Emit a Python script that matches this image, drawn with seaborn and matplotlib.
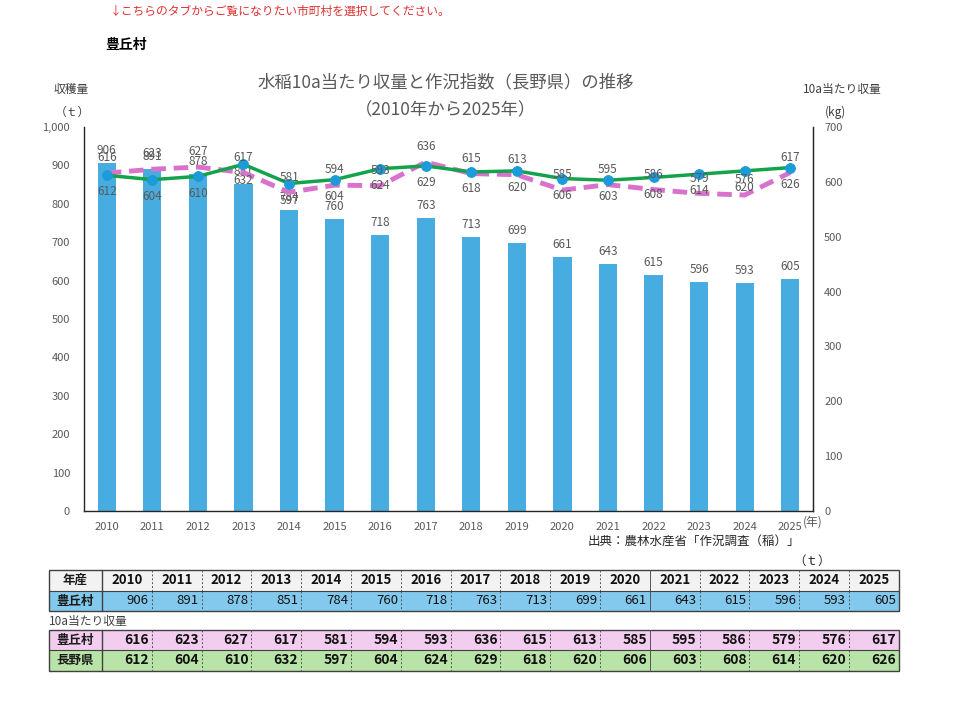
import numpy as np
import pandas as pd
import matplotlib
matplotlib.use("Agg")
import matplotlib.pyplot as plt
from matplotlib.patches import Rectangle
from matplotlib.ticker import FuncFormatter, MultipleLocator
import seaborn as sns

# ---- data ----
years = ["2010", "2011", "2012", "2013", "2014", "2015", "2016", "2017",
         "2018", "2019", "2020", "2021", "2022", "2023", "2024", "2025"]
harvest_t = [906, 891, 878, 851, 784, 760, 718, 763, 713, 699, 661, 643, 615, 596, 593, 605]
yield_village = [616, 623, 627, 617, 581, 594, 593, 636, 615, 613, 585, 595, 586, 579, 576, 617]
yield_pref = [612, 604, 610, 632, 597, 604, 624, 629, 618, 620, 606, 603, 608, 614, 620, 626]

village = "豊丘村"
pref = "長野県"

sns.set_style("white")
plt.rcParams["font.family"] = ["Noto Sans CJK JP", "DejaVu Sans"]

W, H = 960, 701
fig = plt.figure(figsize=(W / 100, H / 100), dpi=100)

GRAY = "#595959"
BAR = "#47ade0"
GREEN = "#13a34b"
MARK = "#1b9bd7"
PINK = "#d872cc"

# main axes (pixel box 84..813 x 127..511)
L, R, T, B = 84, 813, 127, 511
ax = fig.add_axes([L / W, 1 - B / H, (R - L) / W, (B - T) / H])
df = pd.DataFrame({"year": years, "harvest": harvest_t})
sns.barplot(data=df, x="year", y="harvest", color=BAR, width=0.4, ax=ax,
            saturation=1, edgecolor="none")
ax.set_ylim(0, 1000)
ax.set_xlim(-0.5, len(years) - 0.5)
ax.yaxis.set_major_locator(MultipleLocator(100))
ax.yaxis.set_major_formatter(FuncFormatter(lambda v, p: f"{int(v):,}"))
ax.set_xlabel("")
ax.set_ylabel("")
ax.tick_params(axis="y", labelsize=8, colors=GRAY, length=0, pad=10)
ax.tick_params(axis="x", labelsize=8, colors=GRAY, length=0, pad=8)
for s in ["top"]:
    ax.spines[s].set_visible(False)
for s in ["left", "bottom", "right"]:
    ax.spines[s].set_color("#262626")
    ax.spines[s].set_linewidth(1.0)

for i, v in enumerate(harvest_t):
    ax.annotate(f"{v}", (i, v), xytext=(0, 9), textcoords="offset points",
                ha="center", va="center", fontsize=8.5, color=GRAY)

ax2 = ax.twinx()
xs = np.arange(len(years))
sns.lineplot(x=xs, y=yield_village, ax=ax2, color=PINK, linewidth=3.5,
             dashes=False, linestyle=(0, (3, 1.6)), legend=False)
sns.lineplot(x=xs, y=yield_pref, ax=ax2, color=GREEN, linewidth=2.5,
             marker="o", markersize=7, markerfacecolor=MARK, markeredgecolor=MARK,
             legend=False)
ax2.set_ylim(0, 700)
ax2.set_xlim(-0.5, len(years) - 0.5)
ax2.yaxis.set_major_locator(MultipleLocator(100))
ax2.tick_params(axis="y", labelsize=8, colors=GRAY, length=0, pad=8)
ax2.set_ylabel("")
for s in ["top", "left", "bottom"]:
    ax2.spines[s].set_visible(False)
ax2.spines["right"].set_color("#262626")

for i, v in enumerate(yield_village):
    ax2.annotate(f"{v}", (i, v), xytext=(0, 11), textcoords="offset points",
                 ha="center", va="center", fontsize=8.5, color=GRAY)
for i, v in enumerate(yield_pref):
    ax2.annotate(f"{v}", (i, v), xytext=(0, -12), textcoords="offset points",
                 ha="center", va="center", fontsize=8.5, color=GRAY)

# ---- overlay for texts and table (pixel coordinates) ----
ov = fig.add_axes([0, 0, 1, 1], zorder=-1)
ov.set_xlim(0, W)
ov.set_ylim(H, 0)
ov.axis("off")
ov.patch.set_alpha(0)

ov.text(110, 11, "↓こちらのタブからご覧になりたい市町村を選択してください。",
        fontsize=8.5, color="#e03030", va="center", ha="left")
ov.text(105, 45, village, fontsize=10, fontweight="bold", color="#000000",
        va="center", ha="left")
ov.text(446, 82, "水稲10a当たり収量と作況指数（長野県）の推移", fontsize=12.5,
        color=GRAY, ha="center", va="center")
ov.text(446, 110, "（2010年から2025年）", fontsize=12.5, color=GRAY,
        ha="center", va="center")
ov.text(71, 90, "収穫量", fontsize=8.5, color="#404040", ha="center", va="center")
ov.text(72, 112, "（ｔ）", fontsize=8.5, color="#404040", ha="center", va="center")
ov.text(842, 90, "10a当たり収量", fontsize=8.5, color="#404040", ha="center", va="center")
ov.text(836, 112, "(kg)", fontsize=8.5, color="#404040", ha="center", va="center")
ov.text(806, 141, pref, fontsize=8.5, color="#7f7f7f", ha="right", va="center")
ov.text(803, 522, "(年)", fontsize=8.5, color=GRAY, ha="left", va="center")
ov.text(800, 541, "出典：農林水産省「作況調査（稲）」", fontsize=9, color="#262626",
        ha="right", va="center")
ov.text(812, 561, "（ｔ）", fontsize=9, color="#262626", ha="center", va="center")

# table
x0, c0, cw = 49, 102, 49.8
ncol = len(years)
x_end = c0 + ncol * cw
EDGE = "#404040"


def row(y_top, y_bot, color, label, values, bold_vals, header=False):
    ov.add_patch(Rectangle((x0, y_top), x_end - x0, y_bot - y_top,
                           facecolor=color, edgecolor="none"))
    ym = (y_top + y_bot) / 2
    ov.text((x0 + c0) / 2, ym, label, ha="center", va="center", fontsize=9,
            fontweight="bold", color="#1a1a1a")
    for i, v in enumerate(values):
        if header:
            ov.text(c0 + (i + 0.5) * cw, ym, v, ha="center", va="center",
                    fontsize=9.5, fontweight="bold", color="#111111")
        else:
            ov.text(c0 + (i + 1) * cw - 3, ym, f"{v}", ha="right", va="center",
                    fontsize=10 if bold_vals else 9.5,
                    fontweight="bold" if bold_vals else "normal", color="#111111")
    for i in range(1, ncol):
        xx = c0 + i * cw
        ov.plot([xx, xx], [y_top, y_bot], color="#555555", lw=0.7,
                ls=(0, (2, 2)) if i != 11 else "-")
    ov.plot([c0, c0], [y_top, y_bot], color=EDGE, lw=1.0)


row(570, 591, "#f2f2f2", "年産", years, False, header=True)
row(591, 611, "#83c9ee", village, harvest_t, False)
ov.add_patch(Rectangle((x0, 570), x_end - x0, 41, fill=False, edgecolor=EDGE, lw=1.0))
ov.plot([x0, x_end], [591, 591], color=EDGE, lw=0.8)
ov.text(49, 621, "10a当たり収量", fontsize=8.5, color="#404040", ha="left", va="center")
row(630, 650, "#f3cdef", village, yield_village, True)
row(650, 671, "#b9e4a7", pref, yield_pref, True)
ov.add_patch(Rectangle((x0, 630), x_end - x0, 41, fill=False, edgecolor=EDGE, lw=1.0))
ov.plot([x0, x_end], [650, 650], color=EDGE, lw=0.8)

fig.savefig("out.png", dpi=100, facecolor="white")
